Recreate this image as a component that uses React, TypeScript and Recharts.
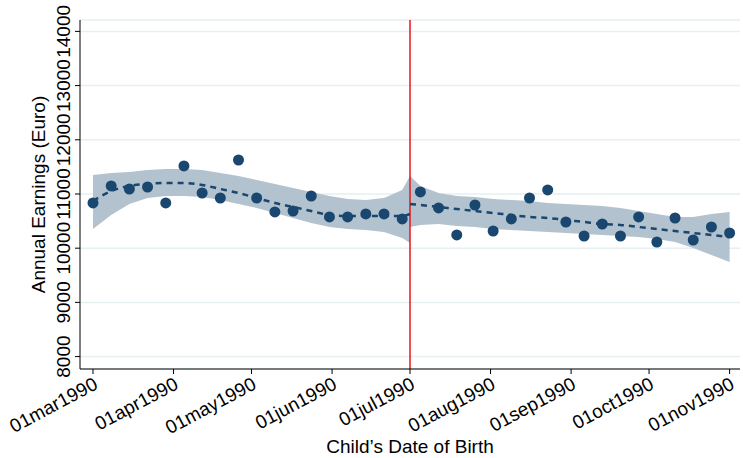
import React from "react";
import { ComposedChart, Line, Area, XAxis, YAxis, CartesianGrid, ReferenceLine } from "recharts";

const days = [0,7,14,21,28,35,42,49,56,63,70,77,84,91,98,105,112,119,122,126,133,140,147,154,161,168,175,182,189,196,203,210,217,224,231,238,245];
const points = [10834,11148,11092,11129,10834,11517,11018,10926,11627,10926,10668,10686,10963,10576,10576,10631,10631,10539,null,
  11037,10742,10244,10797,10317,10539,10926,11074,10483,10225,10446,10225,10576,10114,10557,10151,10391,10280];
const preFit = [10871,11055,11148,11185,11203,11203,11166,11092,11018,10926,10834,10760,10686,10613,10594,10594,10594,10594,10631];
const preHi = [11351,11387,11406,11443,11461,11461,11443,11387,11332,11258,11185,11111,11037,10963,10908,10889,10926,11074,11332];
const preLo = [10354,10613,10815,10926,10963,10963,10945,10889,10815,10742,10649,10557,10465,10391,10354,10336,10299,10188,10096];
const postFit = [10815,10797,10760,10723,10686,10649,10613,10576,10557,10520,10483,10446,10428,10391,10354,10317,10280,10244,10207];
const postHi = [11332,11148,11018,10963,10945,10908,10889,10871,10834,10815,10797,10779,10742,10686,10631,10576,10576,10631,10668];
const postLo = [10391,10428,10446,10410,10391,10354,10336,10317,10299,10280,10262,10244,10225,10207,10170,10114,10004,9875,9745];
const xTicks = [0,31,61,92,122,153,184,214,245];
const xLabels = ["01mar1990","01apr1990","01may1990","01jun1990","01jul1990","01aug1990","01sep1990","01oct1990","01nov1990"];
const yTicks = [8000,9000,10000,11000,12000,13000,14000];

const data = days.map((d, i) => {
  const row: any = { day: d, pt: points[i] };
  if (i <= 18) { row.preFit = preFit[i]; row.preBand = [preLo[i], preHi[i]]; }
  if (i >= 18) { const j = i - 18; row.postFit = postFit[j]; row.postBand = [postLo[j], postHi[j]]; }
  return row;
});

const font = "Liberation Sans, Arial, sans-serif";
const XTick = (p: any) => {
  const { x, y, payload } = p;
  const idx = xTicks.indexOf(payload.value);
  return (
    <text x={x + 6} y={y + 12} textAnchor="end" fontSize={19} fontFamily={font} fill="#000"
      transform={`rotate(-28 ${x + 6} ${y + 12})`}>{xLabels[idx]}</text>
  );
};
const YTick = (p: any) => {
  const { x, y, payload } = p;
  return (
    <text x={x - 3} y={y} textAnchor="middle" fontSize={19} fontFamily={font} fill="#000"
      transform={`rotate(-90 ${x - 3} ${y})`}>{payload.value}</text>
  );
};

export default function App() {
  return (
    <div style={{ position: "absolute", left: 0, top: 0, background: "#fff" }}>
      <ComposedChart width={743} height={458} data={data} margin={{ top: 20, right: 3, left: 0, bottom: 0 }}>
        <CartesianGrid horizontal vertical={false} stroke="#e6eff1" strokeWidth={1.5} />
        <XAxis dataKey="day" type="number" domain={[-5, 249]} ticks={xTicks} tick={<XTick />} height={89}
          stroke="#000" tickSize={5} interval={0}
          label={{ value: "Child\u2019s Date of Birth", position: "insideBottom", offset: 5, fontSize: 19, fontFamily: font, fill: "#000" }} />
        <YAxis type="number" domain={[7771, 14210]} ticks={yTicks} tick={<YTick />} width={80} stroke="#000" tickSize={5} interval={0}
          label={{ value: "Annual Earnings (Euro)", angle: -90, position: "insideLeft", offset: 38, fontSize: 19, fontFamily: font, fill: "#000", style: { textAnchor: "middle" } }} />
        <Area dataKey="preBand" stroke="none" fill="#b3c2cf" fillOpacity={1} isAnimationActive={false} connectNulls={false} />
        <Area dataKey="postBand" stroke="none" fill="#b3c2cf" fillOpacity={1} isAnimationActive={false} connectNulls={false} />
        <ReferenceLine x={122} stroke="#e8141c" strokeWidth={1.5} />
        <Line dataKey="preFit" stroke="#1a476f" strokeWidth={2.5} strokeDasharray="6 5" dot={false} type="monotone" isAnimationActive={false} />
        <Line dataKey="postFit" stroke="#1a476f" strokeWidth={2.5} strokeDasharray="6 5" dot={false} type="monotone" isAnimationActive={false} />
        <Line dataKey="pt" stroke="none" isAnimationActive={false} dot={{ r: 5.5, fill: "#1a476f", stroke: "none" }} activeDot={false} />
      </ComposedChart>
    </div>
  );
}
